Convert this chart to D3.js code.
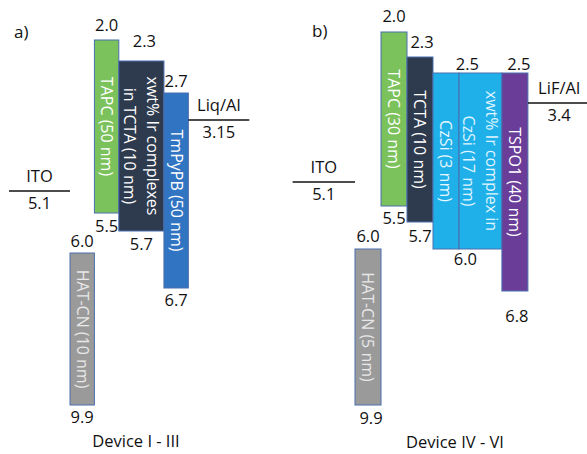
<!DOCTYPE html>
<html>
<head>
<meta charset="utf-8">
<script src="https://cdn.jsdelivr.net/npm/d3@7"></script>
<style>
  body { margin: 0; background: #fff; }
  text { font-family: "Open Sans", sans-serif; }
</style>
</head>
<body>
<script>
// ---- data: panel a (Device I - III) ----
const aLayers = [["HAT-CN (10 nm)"], ["TAPC (50 nm)"], ["xwt% Ir complexes", "in TCTA (10 nm)"], ["TmPyPB (50 nm)"]];
const aLumo = [6.0, 2.0, 2.3, 2.7];
const aHomo = [9.9, 5.5, 5.7, 6.7];
const aElectrodes = ["ITO", "Liq/Al"];
const aWorkFn = [5.1, 3.15];

// ---- data: panel b (Device IV - VI) ----
const bLayers = [["HAT-CN (5 nm)"], ["TAPC (30 nm)"], ["TCTA (10 nm)"], ["CzSi (3 nm)"], ["xwt% Ir complex in", "CzSi (17 nm)"], ["TSPO1 (40 nm)"]];
const bLumo = [6.0, 2.0, 2.3, 2.5, 2.5, 2.5];
const bHomo = [9.9, 5.5, 5.7, 6.0, 6.0, 6.8];
const bElectrodes = ["ITO", "LiF/Al"];
const bWorkFn = [5.1, 3.4];

const titles = ["Device I - III", "Device IV - VI"];
const letters = ["a)", "b)"];

// ---- layout / style ----
const width = 587, height = 454;
const fs = 16.5;
// schematic, not to scale -> piecewise energy axis per panel
const aY = d3.scaleLinear()
  .domain([2.0, 2.3, 2.7, 3.15, 5.1, 5.5, 5.7, 6.0, 6.7, 9.9])
  .range([40, 61, 93, 120, 191, 213, 231, 253, 288, 405]);
const bY = d3.scaleLinear()
  .domain([2.0, 2.3, 2.5, 3.4, 5.1, 5.5, 5.7, 6.0, 6.8, 9.9])
  .range([32, 57, 73, 103, 182, 206, 222, 249, 291, 405]);
// column units -> px
const aX = d3.scaleLinear().domain([0, 1]).range([70, 94.4]);
const bX = d3.scaleLinear().domain([0, 1]).range([355, 381]);
const aWidths = [1, 1, 1.85, 1];
const bWidths = [1, 1, 1, 1, 1.65, 1];
const electrodeLen = [2.5, 2.4];

const aFills = ["#9a9a9a", "#7cc25c", "#2e3a4d", "#3174c2"];
const bFills = ["#9a9a9a", "#7cc25c", "#2e3a4d", "#1fb0ea", "#1fb0ea", "#6a3d99"];
const aTextFills = ["#e8e8e8", "#fff", "#fff", "#fff"];
const bTextFills = ["#e8e8e8", "#fff", "#fff", "#e6f7ff", "#dff4ff", "#fff"];
const aTopNudge = [[0, -6], [0, -9], [3, -14], [0, -6]];
const aBotNudge = [[0, 18], [0, 19], [0, 19], [0, 18]];
const bTopNudge = [[0, -7], [0, -10], [2, -9], [0, -3], [4, -3]];
const bBotNudge = [[3, 19], [0, 18], [0, 20], [-2, 16], [2, 31]];

const svg = d3.select("body").append("svg")
  .attr("width", width)
  .attr("height", height)
  .attr("viewBox", [0, 0, width, height]);

function drawPanel(layers, lumo, homo, electrodes, workFn, x, y, widths, fills, textFills, topNudge, botNudge, eLen, title, letter, titlePos, letterPos) {
  const g = svg.append("g");
  const ends = d3.cumsum(widths);
  const starts = ends.map((e, i) => e - widths[i]);
  const data = layers.map((lines, i) => ({ lines, lumo: lumo[i], homo: homo[i], x0: starts[i], x1: ends[i], fill: fills[i], tf: textFills[i] }));

  // bars
  g.selectAll("rect.layer")
    .data(data)
    .join("rect")
    .attr("class", "layer")
    .attr("x", d => x(d.x0))
    .attr("y", d => y(d.lumo))
    .attr("width", d => x(d.x1) - x(d.x0))
    .attr("height", d => y(d.homo) - y(d.lumo))
    .attr("fill", d => d.fill)
    .attr("stroke", "#4a6fae")
    .attr("stroke-width", 1);

  // rotated layer names
  data.forEach(d => {
    const cx = (x(d.x0) + x(d.x1)) / 2, cy = (y(d.lumo) + y(d.homo)) / 2;
    const t = g.append("text")
      .attr("transform", `translate(${cx},${cy}) rotate(90)`)
      .attr("text-anchor", "middle")
      .attr("fill", d.tf)
      .attr("font-size", 16);
    const n = d.lines.length;
    d.lines.forEach((s, i) => {
      t.append("tspan").attr("x", 0).attr("y", (i - (n - 1) / 2) * 23).attr("dy", "0.35em").text(s);
    });
  });

  // level labels: merge neighbouring layers that share both levels
  const groups = [];
  data.forEach(d => {
    const last = groups[groups.length - 1];
    if (last && last.lumo === d.lumo && last.homo === d.homo) last.x1 = d.x1;
    else groups.push({ lumo: d.lumo, homo: d.homo, x0: d.x0, x1: d.x1 });
  });
  groups.forEach((d, i) => {
    const cx = (x(d.x0) + x(d.x1)) / 2;
    g.append("text").attr("x", cx + topNudge[i][0]).attr("y", y(d.lumo) + topNudge[i][1])
      .attr("text-anchor", "middle").attr("font-size", fs).attr("fill", "#111").text(d3.format(".1f")(d.lumo));
    g.append("text").attr("x", cx + botNudge[i][0]).attr("y", y(d.homo) + botNudge[i][1])
      .attr("text-anchor", "middle").attr("font-size", fs).attr("fill", "#111").text(d3.format(".1f")(d.homo));
  });

  // electrodes: anode left of first layer, cathode right of last
  const right = ends[ends.length - 1];
  const eSpans = [[-eLen, 0], [right, right + eLen]];
  electrodes.forEach((name, i) => {
    const [u0, u1] = eSpans[i];
    const ey = y(workFn[i]);
    const cx = (x(u0) + x(u1)) / 2;
    g.append("line").attr("x1", x(u0)).attr("x2", x(u1)).attr("y1", ey).attr("y2", ey)
      .attr("stroke", "#111").attr("stroke-width", 1.5);
    g.append("text").attr("x", cx).attr("y", ey - 9).attr("text-anchor", "middle")
      .attr("font-size", fs).attr("fill", "#111").text(name);
    g.append("text").attr("x", cx).attr("y", ey + 18).attr("text-anchor", "middle")
      .attr("font-size", fs).attr("fill", "#111").text(String(workFn[i]));
  });

  g.append("text").attr("x", titlePos[0]).attr("y", titlePos[1]).attr("text-anchor", "middle")
    .attr("font-size", fs).attr("fill", "#111").text(title);
  g.append("text").attr("x", letterPos[0]).attr("y", letterPos[1])
    .attr("font-size", 17).attr("fill", "#111").text(letter);
}

drawPanel(aLayers, aLumo, aHomo, aElectrodes, aWorkFn, aX, aY, aWidths, aFills, aTextFills,
  aTopNudge, aBotNudge, electrodeLen[0], titles[0], letters[0], [136, 447], [14, 38]);
drawPanel(bLayers, bLumo, bHomo, bElectrodes, bWorkFn, bX, bY, bWidths, bFills, bTextFills,
  bTopNudge, bBotNudge, electrodeLen[1], titles[1], letters[1], [455, 448], [312, 37]);
</script>
</body>
</html>
